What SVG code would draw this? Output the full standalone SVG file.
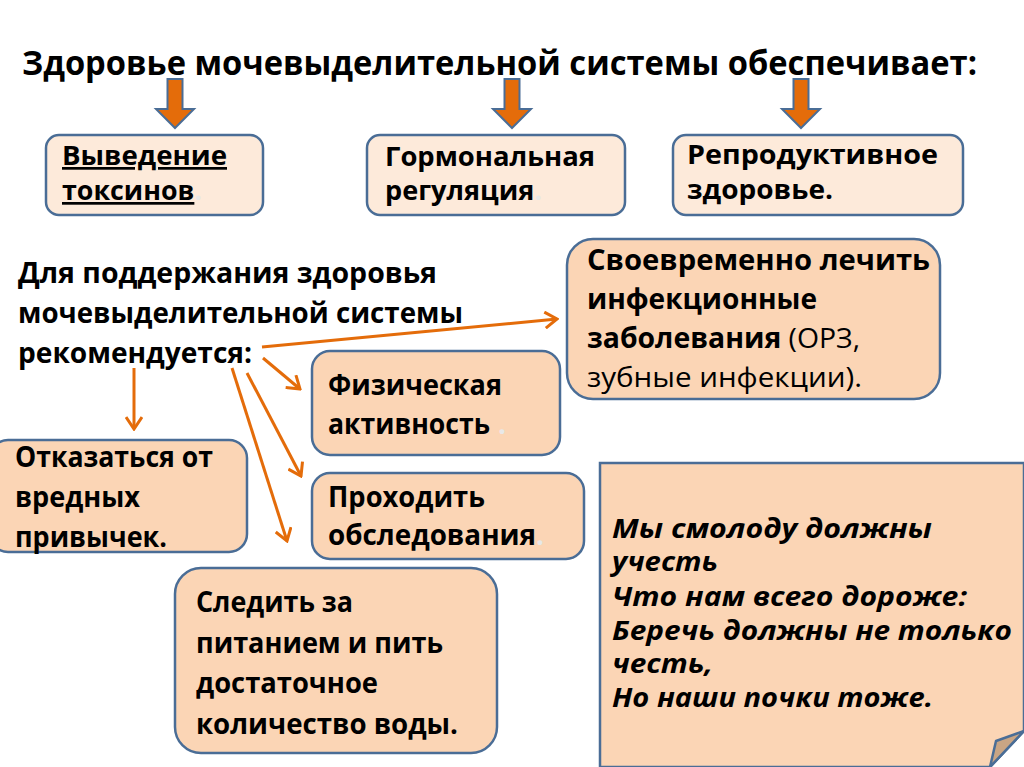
<svg xmlns="http://www.w3.org/2000/svg" width="1024" height="767" viewBox="0 0 1024 767">
<defs>
<style>
text{font-family:"Open Sans","Noto Sans","Liberation Sans",sans-serif;fill:#000;}
.t{font-size:28px;font-weight:bold;}
.s{font-size:27px;}
.n{font-weight:normal;}
.it{font-size:26px;font-weight:bold;font-style:italic;}
.light{fill:#FDEADA;stroke:#4A6D96;stroke-width:2.5;}
.peach{fill:#FBD5B5;stroke:#4A6D96;stroke-width:2.5;}
.con{stroke:#E46C0A;stroke-width:3;fill:none;marker-end:url(#chev);}
.blk{fill:#E46C0A;stroke:#4A6D96;stroke-width:2;}
.faint{fill:#E8E8E8;}
</style>
<marker id="chev" viewBox="0 0 16 18" refX="14" refY="9" markerWidth="16" markerHeight="18" markerUnits="userSpaceOnUse" orient="auto">
<path d="M2,1 L14,9 L2,17" fill="none" stroke="#E46C0A" stroke-width="3" stroke-linejoin="miter"/>
</marker>
<path id="darrow" d="M-7.5,0 H7.5 V30 H19 L0,49 L-19,30 H-7.5 Z"/>
</defs>
<rect width="1024" height="767" fill="#fff"/>

<g id="title">
<text x="22" y="75" style="font-size:34px;font-weight:bold" textLength="955" lengthAdjust="spacingAndGlyphs">Здоровье мочевыделительной системы обеспечивает:</text>
</g>

<g id="block-arrows">
<use href="#darrow" class="blk" x="175" y="79"/>
<use href="#darrow" class="blk" x="512" y="79"/>
<use href="#darrow" class="blk" x="801" y="79"/>
</g>

<g id="node-toxins">
<rect class="light" x="46" y="135" width="217" height="80" rx="13"/>
<text class="t s" x="62" y="165" textLength="165" lengthAdjust="spacingAndGlyphs" text-decoration="underline">Выведение</text>
<text class="t s" x="62" y="200" textLength="140" lengthAdjust="spacingAndGlyphs"><tspan text-decoration="underline">токсинов</tspan><tspan class="faint">.</tspan></text>
</g>

<g id="node-hormonal">
<rect class="light" x="367" y="135" width="258" height="80" rx="13"/>
<text class="t s" x="385" y="166" textLength="210" lengthAdjust="spacingAndGlyphs">Гормональная</text>
<text class="t s" x="385" y="200" textLength="157" lengthAdjust="spacingAndGlyphs">регуляция<tspan class="faint">.</tspan></text>
</g>

<g id="node-reproductive">
<rect class="light" x="673" y="135" width="290" height="80" rx="13"/>
<text class="t s" x="687" y="164" textLength="251" lengthAdjust="spacingAndGlyphs">Репродуктивное</text>
<text class="t s" x="687" y="199" textLength="146" lengthAdjust="spacingAndGlyphs">здоровье.</text>
</g>

<g id="recommend-text">
<text class="t" x="18" y="283" textLength="419" lengthAdjust="spacingAndGlyphs">Для поддержания здоровья</text>
<text class="t" x="18" y="323" textLength="445" lengthAdjust="spacingAndGlyphs">мочевыделительной системы</text>
<text class="t" x="18" y="363" textLength="234" lengthAdjust="spacingAndGlyphs">рекомендуется:</text>
</g>

<g id="node-infections">
<rect class="peach" x="567" y="239" width="373" height="160" rx="26"/>
<text class="t" x="587" y="270" textLength="343" lengthAdjust="spacingAndGlyphs">Своевременно лечить</text>
<text class="t" x="587" y="309" textLength="230" lengthAdjust="spacingAndGlyphs">инфекционные</text>
<text class="t" x="587" y="348" textLength="273" lengthAdjust="spacingAndGlyphs">заболевания<tspan class="n"> (ОРЗ,</tspan></text>
<text class="t n" x="587" y="387" textLength="275" lengthAdjust="spacingAndGlyphs">зубные инфекции).</text>
</g>

<g id="node-activity">
<rect class="peach" x="312" y="351" width="248" height="104" rx="18"/>
<text class="t" x="328" y="395" textLength="174" lengthAdjust="spacingAndGlyphs">Физическая</text>
<text class="t" x="328" y="434" textLength="162" lengthAdjust="spacingAndGlyphs">активность</text>
<text class="t faint" x="498" y="434">.</text>
</g>

<g id="node-exams">
<rect class="peach" x="312" y="473" width="272" height="86" rx="18"/>
<text class="t" x="328" y="507" textLength="157" lengthAdjust="spacingAndGlyphs">Проходить</text>
<text class="t" x="328" y="545" textLength="216" lengthAdjust="spacingAndGlyphs">обследования<tspan class="faint">.</tspan></text>
</g>

<g id="node-habits">
<rect class="peach" x="-10" y="440" width="257" height="112" rx="18"/>
<text class="t" x="15" y="467" textLength="198" lengthAdjust="spacingAndGlyphs">Отказаться от</text>
<text class="t" x="15" y="507" textLength="125" lengthAdjust="spacingAndGlyphs">вредных</text>
<text class="t" x="15" y="547" textLength="152" lengthAdjust="spacingAndGlyphs">привычек.</text>
</g>

<g id="node-nutrition">
<rect class="peach" x="175" y="568" width="322" height="185" rx="26"/>
<text class="t" x="196" y="612" textLength="157" lengthAdjust="spacingAndGlyphs">Следить за</text>
<text class="t" x="196" y="653" textLength="247" lengthAdjust="spacingAndGlyphs">питанием и пить</text>
<text class="t" x="196" y="693" textLength="182" lengthAdjust="spacingAndGlyphs">достаточное</text>
<text class="t" x="196" y="734" textLength="262" lengthAdjust="spacingAndGlyphs">количество воды.</text>
</g>

<g id="node-poem">
<path class="peach" d="M600,463 H1024 V731 L990,767 H600 Z"/>
<path d="M1024,731 L996,741 L990,767 Z" fill="#C9A584" stroke="#4A6D96" stroke-width="2.5" stroke-linejoin="round"/>
<text class="it" x="612" y="538" textLength="320" lengthAdjust="spacingAndGlyphs">Мы смолоду должны</text>
<text class="it" x="612" y="571" textLength="106" lengthAdjust="spacingAndGlyphs">учесть</text>
<text class="it" x="612" y="606" textLength="355" lengthAdjust="spacingAndGlyphs">Что нам всего дороже:</text>
<text class="it" x="612" y="640" textLength="400" lengthAdjust="spacingAndGlyphs">Беречь должны не только</text>
<text class="it" x="612" y="673" textLength="101" lengthAdjust="spacingAndGlyphs">честь,</text>
<text class="it" x="612" y="707" textLength="321" lengthAdjust="spacingAndGlyphs">Но наши почки тоже.</text>
</g>

<g id="connectors">
<line class="con" x1="262" y1="347" x2="557" y2="319"/>
<line class="con" x1="263" y1="358" x2="300" y2="389"/>
<line class="con" x1="134" y1="368" x2="134" y2="429"/>
<line class="con" x1="247" y1="373" x2="301" y2="476"/>
<line class="con" x1="232" y1="368" x2="287" y2="541"/>
</g>
</svg>
